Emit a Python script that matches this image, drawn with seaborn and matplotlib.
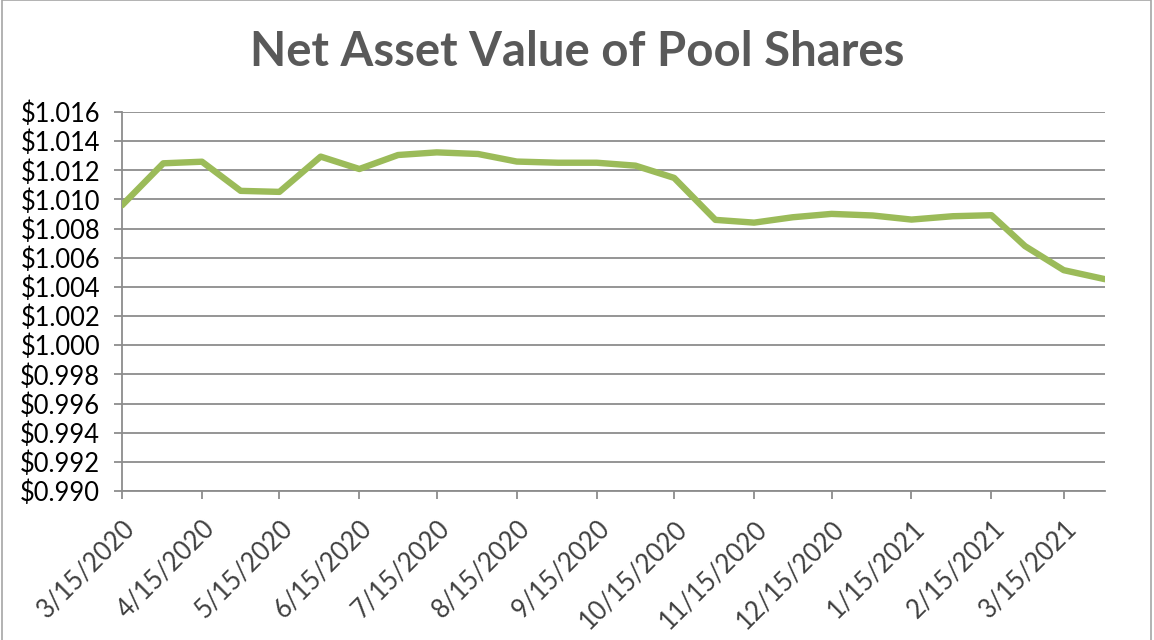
import matplotlib
matplotlib.use("Agg")
import matplotlib.pyplot as plt
import matplotlib.dates as mdates
import matplotlib.ticker as mticker
from matplotlib.patches import Rectangle
import pandas as pd
import seaborn as sns

dates = ["2020-03-15", "2020-03-31", "2020-04-15", "2020-04-30", "2020-05-15", "2020-05-31",
         "2020-06-15", "2020-06-30", "2020-07-15", "2020-07-31", "2020-08-15", "2020-08-31",
         "2020-09-15", "2020-09-30", "2020-10-15", "2020-10-31", "2020-11-15", "2020-11-30",
         "2020-12-15", "2020-12-31", "2021-01-15", "2021-01-31", "2021-02-15", "2021-02-28",
         "2021-03-15", "2021-03-31"]
nav = [1.0096, 1.01248, 1.01259, 1.01059, 1.01052, 1.01294,
       1.01209, 1.01305, 1.01323, 1.01312, 1.0126, 1.01252,
       1.01252, 1.01232, 1.01148, 1.0086, 1.00841, 1.00878,
       1.00901, 1.0089, 1.00862, 1.00885, 1.00892, 1.0068,
       1.00515, 1.00453]
tick_dates = ["2020-03-15", "2020-04-15", "2020-05-15", "2020-06-15", "2020-07-15",
              "2020-08-15", "2020-09-15", "2020-10-15", "2020-11-15", "2020-12-15",
              "2021-01-15", "2021-02-15", "2021-03-15"]
tick_labels = ["3/15/2020", "4/15/2020", "5/15/2020", "6/15/2020", "7/15/2020",
               "8/15/2020", "9/15/2020", "10/15/2020", "11/15/2020", "12/15/2020",
               "1/15/2021", "2/15/2021", "3/15/2021"]
title = "Net Asset Value of Pool Shares"

sns.set_theme(style="white")
plt.rcParams['font.family'] = ['Lato', 'DejaVu Sans']

df = pd.DataFrame({"date": pd.to_datetime(dates), "nav": nav})

fig = plt.figure(figsize=(11.54, 6.4), dpi=100)
fig.patch.set_facecolor("white")
ax = fig.add_axes([122/1154, 1 - 491/640, (1105 - 122)/1154, (491 - 112)/640])

sns.lineplot(data=df, x="date", y="nav", ax=ax, color="#9BBB59", linewidth=4.6,
             solid_capstyle="round", solid_joinstyle="round", zorder=3)

grid_c = "#8C8C8C"
ax.set_ylim(0.990, 1.016)
ax.yaxis.set_major_locator(mticker.MultipleLocator(0.002))
ax.yaxis.set_major_formatter(mticker.FuncFormatter(lambda v, p: f"${v:.3f}"))
ax.set_xlim(df["date"].iloc[0], df["date"].iloc[-1])
ax.set_xticks(pd.to_datetime(tick_dates))
ax.set_xticklabels(tick_labels, rotation=45, ha="right", rotation_mode="anchor")

ax.grid(axis="y", color=grid_c, linewidth=1.3)
ax.grid(axis="x", visible=False)
for s in ["top", "right"]:
    ax.spines[s].set_visible(False)
for s in ["left", "bottom"]:
    ax.spines[s].set_color(grid_c)
    ax.spines[s].set_linewidth(1.3)
ax.tick_params(axis="y", which="major", direction="out", length=5.8, width=1.3,
               color=grid_c, labelsize=18.4, labelcolor="#000000", pad=10, left=True)
ax.tick_params(axis="x", which="major", direction="out", length=5.8, width=1.3,
               color=grid_c, labelsize=18.4, labelcolor="#404040", pad=12, bottom=True)
ax.set_xlabel("")
ax.set_ylabel("")

fig.text(0.5, 1 - 52/640, title, ha="center", va="center", fontsize=34,
         fontweight="bold", color="#595959")

fig.patches.append(Rectangle((2/1154, -0.01), 1 - 5/1154, 1 - 0.5/640 + 0.01,
                             transform=fig.transFigure, fill=False,
                             edgecolor="#A6A6A6", linewidth=1.2))

fig.savefig("out.png", dpi=100)
